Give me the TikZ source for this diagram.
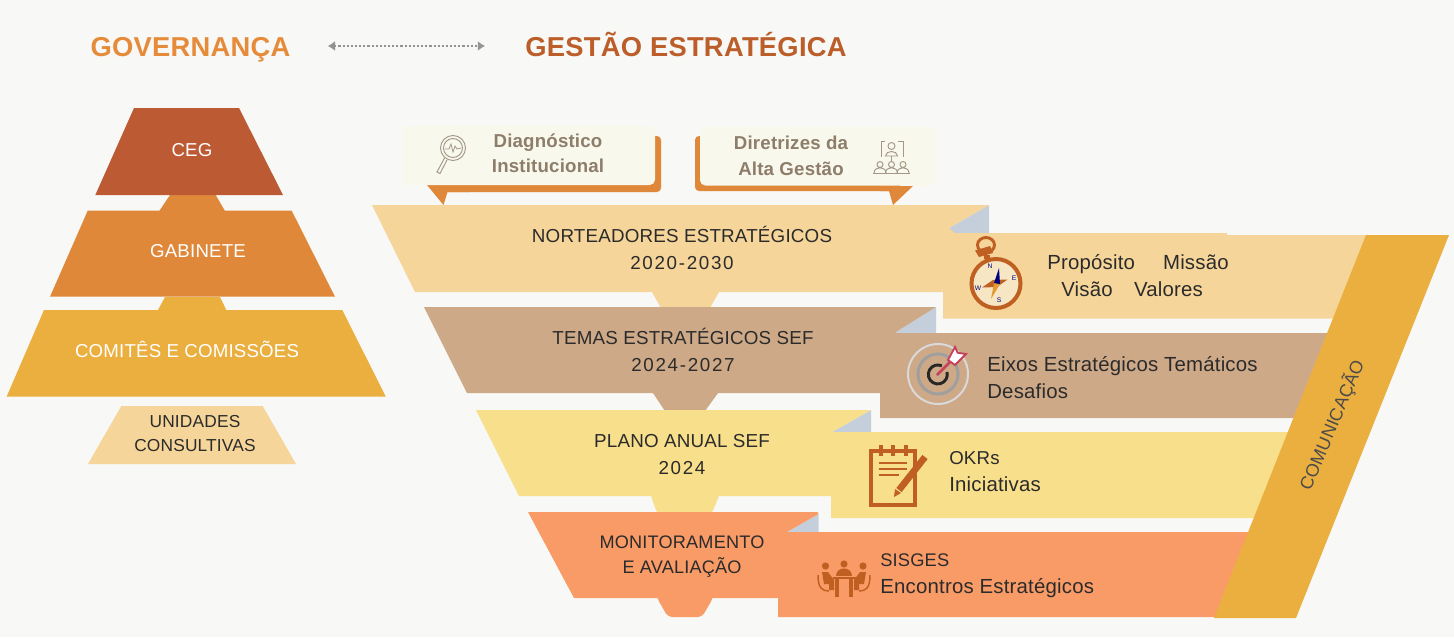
\documentclass[tikz,border=0pt]{standalone}
\usepackage{fontspec}
\setmainfont[LetterSpace=1]{Liberation Sans}
\usetikzlibrary{arrows.meta,calc}
\newcommand{\yrs}[1]{{\addfontfeature{LetterSpace=9}#1}}
\definecolor{bgc}{HTML}{F8F8F6}
\definecolor{ceg}{HTML}{BC5A33}
\definecolor{gab}{HTML}{E0883A}
\definecolor{com}{HTML}{EBAF3F}
\definecolor{pale}{HTML}{F6D59A}
\definecolor{tanb}{HTML}{CDA988}
\definecolor{yel}{HTML}{F8DF8B}
\definecolor{sal}{HTML}{F99B67}
\definecolor{fold}{HTML}{C5CFDB}
\definecolor{cream}{HTML}{F8F8EC}
\definecolor{bold}{HTML}{8E7D6A}
\definecolor{ink}{HTML}{2B2B2B}
\definecolor{rust}{HTML}{BF5F22}
\definecolor{dial}{HTML}{F6E6C4}
\definecolor{dart}{HTML}{C6415A}
\definecolor{gov}{HTML}{E68B3A}
\definecolor{gest}{HTML}{BC5E29}
\tikzset{
  lbl/.style={inner sep=0pt,text=ink,align=center,font=\fontsize{14.1}{20.25}\selectfont},
  lblr/.style={inner sep=0pt,text=ink,align=left,anchor=west,font=\fontsize{15.3}{20.25}\selectfont},
  white lbl/.style={inner sep=0pt,text=white,align=center,font=\fontsize{14}{18}\selectfont},
  tan lbl/.style={inner sep=0pt,text=bold,align=center,font=\fontsize{14}{18.6}\selectfont\bfseries},
  head/.style={inner sep=0pt,font=\fontsize{20.5}{24}\selectfont\bfseries,text height=15pt,text depth=0pt},
  dirl/.style={inner sep=0pt,text=blue!50!black,font=\fontsize{5}{5}\selectfont},
}
\begin{document}
\begin{tikzpicture}[x=0.75pt,y=-0.75pt]
\useasboundingbox (0,0) rectangle (1454,637);
\fill[bgc] (0,0) rectangle (1454,637);
% headings
\node[head,text=gov,anchor=center] (govt) at (190.5,46) {GOVERNANÇA};
\node[head,text=gest,anchor=center] (gestt) at (686,46) {GESTÃO ESTRATÉGICA};
\draw[line width=1.6pt,dash pattern=on 1.6pt off 1.5pt,draw=gray!85,{Latex[length=5.5pt,width=7.5pt]}-{Latex[length=5.5pt,width=7.5pt]},shorten <=27.75pt,shorten >=30pt] (govt.east) -- (gestt.west);
% pyramid
\fill[gab] (159.3,211) -- (170,195) -- (215.7,195) -- (225,211) -- cycle;
\fill[com] (158,310) -- (165,297) -- (220,297) -- (226.3,310) -- cycle;
\fill[ceg] (134,108) -- (239,108) -- (283,195) -- (95.3,195) -- cycle;
\fill[gab] (87.7,210.7) -- (291.7,210.7) -- (335,296.7) -- (50,296.7) -- cycle;
\fill[com] (44,310) -- (342.3,310) -- (385.7,396.5) -- (6.7,396.5) -- cycle;
\fill[pale] (121.3,406) -- (262.7,406) -- (296,464) -- (88,464) -- cycle;
\node[white lbl] (n1) at (192,150) {CEG};
\node[white lbl] (n2) at (198,251) {GABINETE};
\node[white lbl] (n3) at (187,349.5) {COMITÊS E COMISSÕES};
\node[lbl,font=\fontsize{13}{18}\selectfont] (n4) at (195,434) {UNIDADES\\CONSULTIVAS};
% callouts
\fill[gab,rounded corners=3pt] (440,136) -- (661,136) -- (661,192) -- (440,192) -- cycle;
\fill[gab] (427,185) -- (470,185) -- (470,192) -- (447.5,192) -- (443.5,205) -- cycle;
\fill[cream,rounded corners=4pt] (402,126) rectangle (655,185);
\fill[gab,rounded corners=3pt] (695,136) -- (900,136) -- (900,191) -- (695,191) -- cycle;
\fill[gab] (913,186) -- (880,186) -- (880,191) -- (889,191) -- (893,205) -- cycle;
\fill[cream,rounded corners=4pt] (700,127) rectangle (935,185.5);
\node[tan lbl] (d1) at (548,153) {Diagnóstico\\Institucional};
\node[tan lbl,font=\fontsize{14}{19.5}\selectfont\bfseries] (d2) at (791,156) {Diretrizes da\\Alta Gestão};
% magnifier
\draw[bold!80,line width=0.7pt] (453,148) circle (12.5) (453,148) circle (9.5);
\draw[bold!80,line width=0.7pt] (444.5,158) -- (437,172) -- (440,173.5) -- (447,160);
\draw[bold!80,line width=0.6pt] (445,149) -- (449,149) -- (451,144) -- (453,152) -- (455,146) -- (457,149) -- (461,148);
% people
\draw[bold!80,line width=0.7pt] (885,141) -- (881,141) -- (881,157) (898,141) -- (903,141) -- (903,157) (891.5,156) -- (891.5,161);
\draw[bold!80,line width=0.7pt] (891.5,146) circle (3.5) (885.5,156) .. controls (885.5,150) and (897.5,150) .. (897.5,156) -- cycle;
\foreach \xx in {880,891.5,903}{
  \draw[bold!80,line width=0.7pt] (\xx,164.5) circle (3) (\xx-6,173) .. controls (\xx-6,166) and (\xx+6,166) .. (\xx+6,173);
}
\draw[bold!80,line width=0.9pt] (873,173.5) -- (909.5,173.5);
% tabs between banners
\fill[pale] (652,292) -- (719,292) -- (710,308) -- (661,308) -- cycle;
\fill[tanb] (653,393) -- (718,393) -- (705,411) -- (665,411) -- cycle;
\fill[yel,rounded corners=2pt] (651,490) -- (719,490) -- (719,496) -- (712,513) -- (657,513) -- (651,496) -- cycle;
\fill[sal,rounded corners=3pt] (657,590) -- (713,590) -- (713,598) -- (702,617) -- (668,617) -- (657,598) -- cycle;
% folds
\fill[fold] (989,205) -- (989,236) -- (955,236) -- (949,228) -- cycle;
\fill[fold] (936,307) -- (936,336) -- (900,336) -- (896,332) -- cycle;
\fill[fold] (871,410) -- (871,435) -- (836,435) -- (832,432) -- cycle;
\fill[fold] (818.5,514) -- (818.5,535) -- (790,535) -- (787,532) -- cycle;
% main banners and panels
\fill[pale] (372,205) -- (989,205) -- (949,228) -- (955,233) -- (1227,233) -- (1227,235) -- (1380,235) -- (1340,318.7) -- (943,318.7) -- (943,292) -- (415,292) -- cycle;
\fill[tanb] (424,307) -- (936,307) -- (896,332) -- (897,333) -- (1340,333) -- (1320,418) -- (880,418) -- (880,393) -- (467,393) -- cycle;
\fill[yel] (476,410) -- (871,410) -- (832,432) -- (1300,432) -- (1270,518) -- (831,518) -- (831,496) -- (519,496) -- cycle;
\fill[sal] (528,512) -- (817.5,512) -- (818.5,514) -- (787,532) -- (1270,532) -- (1240,617) -- (778,617) -- (778,598) -- (574,598) -- cycle;
% communication band
\fill[com] (1366,235) -- (1449,235) -- (1296,618) -- (1214,618) -- cycle;
\node[inner sep=0pt,rotate=67,text=ink!85,font=\fontsize{13.5}{16}\selectfont] (cm) at (1332,425) {COMUNICAÇÃO};
% banner text
\node[lbl] (b1) at (682,248) {NORTEADORES ESTRATÉGICOS\\\yrs{2020-2030}};
\node[lbl] (b2) at (683,349.5) {TEMAS ESTRATÉGICOS SEF\\\yrs{2024-2027}};
\node[lbl] (b3) at (682,455) {PLANO ANUAL SEF\\\yrs{2024}};
\node[lbl,font=\fontsize{13.6}{18.75}\selectfont] (b4) at (682,557) {MONITORAMENTO\\E AVALIAÇÃO};
% panel text
\node[lblr] (p1) at (1047,275.5) {Propósito\hspace{21pt}Missão\\\hspace{10.5pt}Visão\hspace{16pt}Valores};
\node[lblr] (p2) at (987,377.5) {Eixos Estratégicos Temáticos\\Desafios};
\node[lblr] (p3) at (949,472) {{\fontsize{14}{20.25}\selectfont OKRs}\\Iniciativas};
\node[lblr] (p4) at (880,575.5) {{\fontsize{13.7}{20.25}\selectfont SISGES}\\Encontros Estratégicos};
% compass
\draw[rust,line width=2.2pt] (986,245) ellipse (8.5 and 7.5);
\fill[rust] (975,250.5) -- (990,246) -- (993,253) -- (979,257) -- cycle;
\fill[rust] (984,255) rectangle (990,259);
\draw[rust,line width=3pt,fill=dial] (996,283.5) circle (24.5);
\fill[rust] (982,287.5) -- (993,280) -- (1007.5,279.5) -- (997,287) -- cycle;
\fill[gab!85!yellow] (991,299) -- (994,283) -- (1000,284) -- cycle;
\fill[blue!50!black] (999,268) -- (1000,284) -- (994,283) -- cycle;
\node[dirl] (cN) at (990,266) {N};
\node[dirl] (cE) at (1014,278) {E};
\node[dirl] (cS) at (999,300) {S};
\node[dirl] (cW) at (978,288) {W};
% target
\draw[gray!30,line width=1.5pt] (938,374) circle (30);
\draw[gray!75,line width=2.2pt] (938,374) circle (20);
\draw[ink!90!black,line width=2.2pt] (947,372) arc (-15:295:9.5);
\draw[dart,line width=2pt] (937,375) -- (950,362);
\fill[white,draw=dart,line width=1.4pt] (948,360) -- (955,347) -- (957.6,352.7) -- (966,354) -- (955,365) -- cycle;
% notepad
\draw[rust,line width=2.5pt] (871,451) rectangle (915,505);
\foreach \xx in {881,893,906}{\draw[rust,line width=2.8pt] (\xx,445) -- (\xx,456);}
\draw[rust,line width=1.8pt] (879,463) -- (907,463) (879,469) -- (907,469) (879,475) -- (899,475);
\draw[rust,line width=5pt] (899,490) -- (925,457);
\fill[rust] (894,497) -- (895,489) -- (901,493) -- cycle;
% meeting
\foreach \xx/\yy in {825.5/566,844/564,863/566}{\fill[rust] (\xx,\yy) circle (3.6);}
\fill[rust] (836,576) .. controls (836,566) and (852,566) .. (852,576) -- cycle;
\draw[rust,line width=1.5pt] (833,578) -- (856,578);
\draw[rust,line width=2.5pt] (837,578) -- (837,597) (851,578) -- (851,597);
\fill[rust] (822,572) -- (828,572) -- (834,580) -- (834,590) -- (829,590) -- (829,584) -- (824,584) -- cycle;
\fill[rust] (866,572) -- (860,572) -- (854,580) -- (854,590) -- (859,590) -- (859,584) -- (864,584) -- cycle;
\draw[rust,line width=1.1pt] (818,575) .. controls (818,588) and (822,591) .. (829,591) (870,575) .. controls (870,588) and (866,591) .. (859,591);
\end{tikzpicture}
\end{document}
